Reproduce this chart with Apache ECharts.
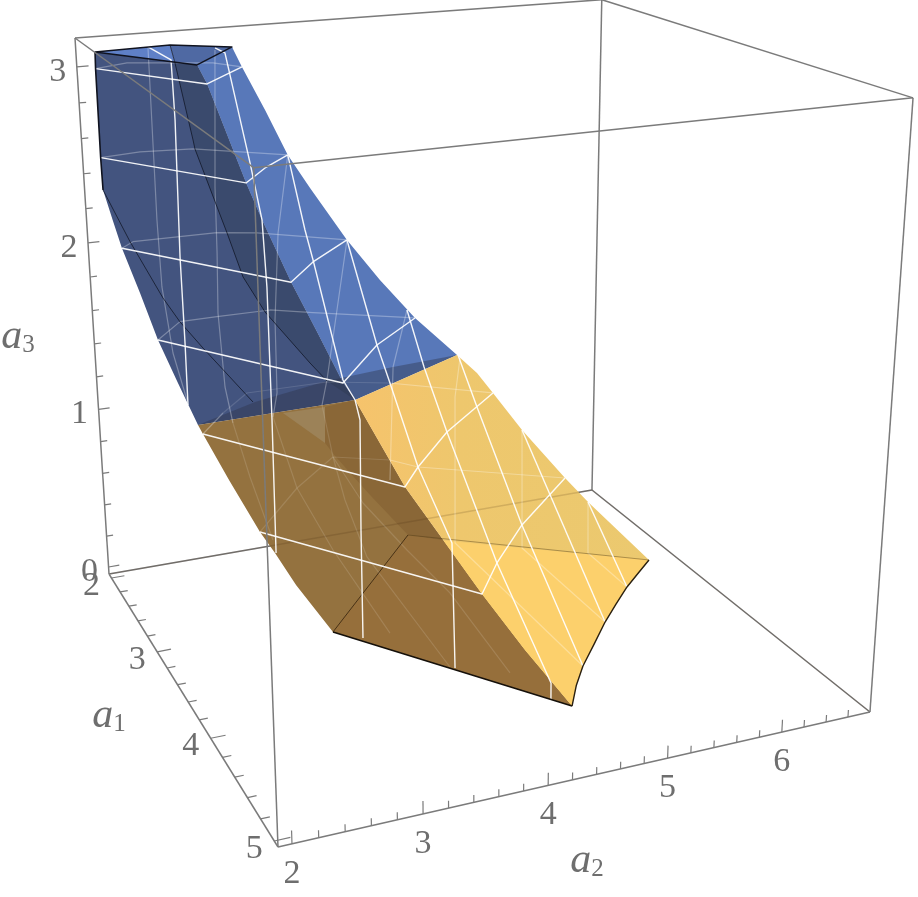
<!DOCTYPE html>
<html><head><meta charset="utf-8">
<style>html,body{margin:0;padding:0;background:#fff}#c{width:918px;height:897px}</style>
<script src="https://cdn.jsdelivr.net/npm/echarts@6/dist/echarts.min.js"></script></head>
<body><div id="c"></div>
<script>
// ---- axis values -------------------------------------------------
const a1Range=[1.941,5.053], a2Range=[1.896,6.803], a3Range=[-0.0458,3.159];
const a1Ticks=[2,2.2,2.4,2.6,2.8,3,3.2,3.4,3.6,3.8,4,4.2,4.4,4.6,4.8,5];
const a2Ticks=[2,2.2,2.4,2.6,2.8,3,3.2,3.4,3.6,3.8,4,4.2,4.4,4.6,4.8,5,5.2,5.4,5.6,5.8,6,6.2,6.4,6.6];
const a3Ticks=[0,0.2,0.4,0.6,0.8,1,1.2,1.4,1.6,1.8,2,2.2,2.4,2.6,2.8,3];
const a1Labels=[2,3,4,5], a2Labels=[2,3,4,5,6], a3Labels=[0,1,2,3];
// ---- surface values [a1,a2,a3] -----------------------------------
const leftUpper=[[2.074,2.010,3.1],[2.030,2.022,3],[2.015,2.025,2.5],[2.031,2.023,2.32],[2.057,2.081,2.15],[2.120,2.124,2],[2.189,2.233,1.75],[2.301,2.324,1.5],[2.356,2.458,1.25],[2.527,2.545,1.05]];
const leftLower=[[2.546,2.577,1],[2.663,2.738,.75],[2.869,2.899,.5],[2.957,2.983,.4],[3.090,3.094,.25],[3.237,3.335,0]];
const ridgeUpper=[[2.644,2.626,3.1],[2.666,2.692,3],[2.865,2.892,2.5],[2.901,2.998,2.3],[3.092,3.130,2],[3.215,3.274,1.75],[3.356,3.408,1.5],[3.394,3.487,1.41]];
const ridgeLower=[[3.679,3.735,1],[3.868,3.944,.75],[4.053,4.153,.5],[4.267,4.378,.25],[4.482,4.633,0]];
const rightUpper=[[2.250,3.109,3.1],[2.319,3.156,3],[2.317,3.346,2.75],[2.379,3.503,2.5],[2.206,3.787,2.25],[2.470,3.969,2],[2.499,4.250,1.75],[2.514,4.566,1.5],[2.546,4.946,1.25]];
const rightLower=[[2.545,5.141,1.12],[2.593,5.265,1],[2.622,5.535,.75],[2.845,5.805,.5],[2.967,5.945,.38],[3.099,6.472,0]];
const baseCurve=[[4.121,5.009,0],[3.712,5.537,0],[3.369,6.027,0]];
const baseCurveMid=[[4.295,4.815,0],[3.920,5.270,0],[3.540,5.780,0],[3.233,6.250,0]];
const backUpper=[[2.052,2.661,3.1],[2.060,2.693,3],[2.025,2.835,2.55],[2.035,2.844,2.5],[2.031,3.021,2.15],[2.063,3.087,2],[2.133,3.184,1.75],[2.067,3.407,1.5],[2.337,3.673,1.25],[2.401,3.793,1.15]];
const backLower=[[2.420,3.758,1],[2.240,3.847,.7],[2.011,4.075,.5],[2.091,4.360,.25],[2.214,4.661,0]];
const crease=[[2.011,2.239,2],[2.177,2.437,1.7],[2.046,2.633,1.5],[2.117,2.799,1.35],[2.305,3.150,1.05]];
const seamBack=[[2.460,4.384,1.2],[2.385,3.130,1.08]];
const ring25=[[2.865,2.892,2.5],[2.604,3.186,2.5]];
const ring20=[[2.793,3.482,2]];
const ring15=[[2.865,3.996,1.5]];
const ring10=[[3.457,3.989,1],[3.054,4.512,1]];
const ring05=[[3.744,4.500,.5],[3.351,5.010,.5]];
const arc30=[[1.949,2.323,3],[2.148,2.985,3]];
const arc25=[[1.976,2.383,2.5],[2.030,2.829,2.5]];
const arc20=[[2.018,2.262,2],[2.034,3.009,2],[2.131,3.327,2]];
const arc15=[[2.040,2.635,1.5],[2.038,2.975,1.5],[2.043,3.466,1.5],[2.190,3.792,1.5]];
const arc10=[[2.280,2.883,1],[2.023,3.231,1],[2.034,3.992,1],[2.196,4.503,1]];
const arc05=[[2.367,3.502,.5],[2.004,4.049,.5],[2.184,4.509,.5],[2.351,4.683,.5]];
const curve1=[[2.057,2.468,3.1],[2.458,2.492,3.1],[2.476,2.494,2.78],[2.412,2.507,2],[2.410,2.515,1.5],[2.457,2.495,1.15]];
const curve2=[[2.238,2.967,3.1],[2.395,2.978,3.1],[2.846,2.941,2.6],[2.901,2.998,2.3],[2.968,2.987,1.95],[2.983,2.984,1.2],[2.960,2.991,.4]];
const curve3=[[2.843,3.393,2.2],[2.914,3.418,2.05],[3.314,3.432,1.5],[3.410,3.517,1.3],[3.434,3.493,.68],[3.404,3.509,.02]];
const curve4=[[2.952,4.057,1.3],[3.914,3.987,.75],[3.912,4.011,.02]];
const curve5=[[2.501,4.499,1.55],[2.659,4.556,1.25],[4.337,4.557,.07],[4.400,4.510,.01]];
const curve6=[[2.548,4.954,1.25],[2.884,4.909,1.05]];
const hidden1=[[3.023,2.078,2.4],[3.206,2.016,2.1],[2.821,2.236,1.6],[2.507,2.467,1.2]];
const hidden2=[[2.292,2.941,3.1],[2.695,2.709,2.45],[2.582,2.754,2.05],[2.121,2.948,1.55],[2.393,2.860,1.2],[2.452,2.891,1],[2.668,2.924,.75],[2.894,3.000,.45]];
const hidden3=[[2.180,3.495,2],[2.228,3.417,1.5],[2.600,3.227,1.2],[2.575,3.196,1.05],[2.808,3.274,.7],[2.945,3.513,.35],[3.425,3.740,.03]];
const hidden4=[[2.769,3.592,1.3],[2.630,3.617,1.1],[2.576,3.736,.75],[2.747,3.743,.55],[3.005,3.789,.3],[3.874,3.991,.01]];
const hidden5=[[2.720,3.926,.5],[3.007,4.160,.3],[3.418,4.295,.2],[4.074,4.387,.02]];
const hidden6=[[2.589,4.307,1.25],[3.016,4.006,.75]];
const hidden7=[[2.600,4.939,1.25],[2.688,4.831,1.05],[3.226,4.470,.4]];
const hidden8=[[3.140,5.167,.25]];
const hidden9=[[3.062,5.879,.1]];
const patchCorner=[[2.464,3.343,1.02]];

// ---- view: perspective of the 3D box onto a hidden 2D value plane ----
function project(p){
  const u=(p[0]-a1Range[0])/(a1Range[1]-a1Range[0]),
        v=(p[1]-a2Range[0])/(a2Range[1]-a2Range[0]),
        w=(p[2]-a3Range[0])/(a3Range[1]-a3Range[0]);
  const d=1-.22714*u+.0916*v-.085*w;
  return [(109+105.85*u+537.2*v-40.375*w)/d,(574+80.6*u-39.1*v-539.23*w)/d];
}
const rev=a=>a.slice().reverse();
const shapes=[];
const poly=(pts,fill)=>shapes.push({pts,fill});
const line=(pts,stroke,lineWidth,closed)=>shapes.push({pts,stroke,lineWidth,closed});

const L=a1Range[0],F=a1Range[1],N=a2Range[0],R=a2Range[1],B=a3Range[0],T=a3Range[1],TB=T-.024;
const boxGray='#7b7b7b';
const curveOutline=[ridgeLower[4],baseCurveMid[0],baseCurve[0],baseCurveMid[1],baseCurve[1],baseCurveMid[2],baseCurve[2],baseCurveMid[3],rightLower[5]];
// box edges behind the solid
const backEdges=[[[L,N,B],[L,R,B]],[[L,R,B],[F,R,B]],[[L,R,B],[L,R,TB]],[[L,N,T],[L,R,TB]],[[L,R,TB],[F,R,T]]];
backEdges.forEach(e=>line(e,boxGray,1.5));
// upper (blue) body
poly(leftUpper.concat(rev(ridgeUpper)),'#43547f');
poly(ridgeUpper.concat(rev(rightUpper)),'#5878b9');
poly([leftUpper[0],backUpper[0],backUpper[1]],'#5f80c7');
poly([backUpper[0],rightUpper[0],ridgeUpper[0],backUpper[1]],'#4f69a3');
poly([leftUpper[0],backUpper[1],ridgeUpper[0]],'#3f5080');
poly(backUpper.slice(1).concat(rev(ridgeUpper)),'#3a4a6d');
poly([leftUpper[9],ridgeUpper[7],rightUpper[8],seamBack[0],backUpper[9],seamBack[1]],'rgba(45,50,70,.4)');
// lower (yellow) body
poly([leftUpper[9]].concat(leftLower,rev(ridgeLower),[ridgeUpper[7]]),'#94723f');
poly(backLower.concat([ridgeLower[1],ridgeLower[0],ridgeUpper[7]]),'#8a6737');
poly([backLower[4],ridgeLower[1],ridgeLower[2],ridgeLower[3],ridgeLower[4],leftLower[5]],'#966f3b');
poly([patchCorner[0],backLower[0],backLower[1]],'#9c8258');
shapes.push({pts:[ridgeUpper[7]].concat(ridgeLower,curveOutline.slice(1),rev(rightLower).slice(1),[rightUpper[8]]),
  fill:{type:'linear',x:0,y:0,x2:1,y2:0,colorStops:[{offset:0,color:'#f6c36c'},{offset:.35,color:'#eec76d'},{offset:1,color:'#ebc96f'}]}});
poly(ridgeLower.slice(1).concat(curveOutline.slice(1)),'#fcd06c');
// box edges seen through the solid
backEdges.slice(0,2).forEach(e=>line(e,'rgba(60,40,15,.16)',1.4));

// hidden arcs and hidden long lines, seen through: brighter over blue and yellow, dimmer over brown
const faint='rgba(255,255,255,.3)', dim='rgba(255,255,255,.13)';
const hiddenLine=(p,a,b)=>{
  if(a>0) line(p.slice(0,a+1),faint,1.2);
  line(p.slice(a,b+1),dim,1.2);
  if(b<p.length-1) line(p.slice(b),faint,1.2);
};
[
 [leftUpper[1]].concat(arc30,[rightUpper[1]]),
 [leftUpper[2]].concat(arc25,[rightUpper[3]]),
 [leftUpper[5]].concat(arc20,[rightUpper[5]]),
 [leftUpper[7]].concat(arc15,[rightUpper[7]]),
 [curve1[0]].concat(hidden1),
 [rightUpper[3]].concat(hidden6.slice(0,0)),
 [curve5[0]].concat(hidden6),
 hidden7.concat([baseCurve[0]]),
 [rightLower[2]].concat(hidden8,[baseCurve[1]]),
 [rightLower[4]].concat(hidden9,[baseCurve[2]])
].filter(p=>p.length>1).forEach(p=>line(p,faint,1.2));
hiddenLine([leftLower[0]].concat(arc10,[rightLower[1]]),1,4);
hiddenLine([leftLower[2]].concat(arc05,[rightLower[3]]),0,3);
hiddenLine(hidden2,5,7);
hiddenLine([rightUpper[3]].concat(hidden3),4,7);
hiddenLine([rightUpper[5]].concat(hidden4),2,6);
hiddenLine([hidden4[2]].concat(hidden5),0,4);

// dark inner edges
line(backUpper,'rgba(15,20,35,.75)',1);
line([leftUpper[3]].concat(crease),'rgba(15,20,35,.75)',1);
line([leftLower[5],backLower[4]],'rgba(45,28,8,.75)',1);
line([backLower[4],rightLower[5]],'rgba(70,50,15,.4)',1);

// bright mesh
const bright='rgba(255,255,255,.93)';
[
 [leftUpper[1],ridgeUpper[1],rightUpper[1]],
 [leftUpper[2]].concat(ring25,[rightUpper[3]]),
 [leftUpper[5],ridgeUpper[4]].concat(ring20,[rightUpper[5]]),
 [leftUpper[7],ridgeUpper[6]].concat(ring15,[rightUpper[7]]),
 [leftLower[0],ridgeLower[0]].concat(ring10,[rightLower[1]]),
 [leftLower[2],ridgeLower[2]].concat(ring05,[rightLower[3]]),
 curve1,curve2,
 [rightUpper[3]].concat(curve3.slice(0,3),[ridgeUpper[7]],curve3.slice(3)),
 [rightUpper[5],ring15[0],curve4[0],ring10[0],curve4[1],curve4[2]],
 [curve5[0],curve5[1],ring10[1],ring05[0],curve5[2],curve5[3]],
 [curve6[0],curve6[1],ring05[1],baseCurve[0]],
 [rightLower[2],baseCurve[1]],
 [rightLower[4],baseCurve[2]]
].forEach(p=>line(p,bright,1.4));

// black outline
line([leftUpper[0],ridgeUpper[0],rightUpper[0],backUpper[0]],'#10131f',1.4,true);
line(leftUpper.slice(0,4),'#10131f',1.6);
line([leftLower[5],ridgeLower[4]],'#15100a',1.6);
line(curveOutline,'#2a2010',1.4);

// box edges in front, and ticks
[[[L,N,T],[F,N,T]],[[F,N,T],[F,R,T]],[[F,N,T],[F,N,B]],[[F,N,B],[F,R,B]],[[F,N,B],[L,N,B]],[[L,N,B],[L,N,T]],[[F,R,T],[F,R,B]]]
 .forEach(e=>line(e,boxGray,1.5));
a1Ticks.forEach(t=>line([[t,N,B],[t,N+(a1Labels.includes(t)?.12:.07),B]],boxGray,1.2));
a2Ticks.forEach(t=>line([[F,t,B],[F,t,B+(a2Labels.includes(t)?.07:.04)]],boxGray,1.2));
a3Ticks.forEach(t=>line([[L,N,t],[L,N+(a3Labels.includes(t)?.1:.06),t]],boxGray,1.2));

// ---- texts -------------------------------------------------------
const gray='#6e6e6e', serif='Liberation Serif';
const labels=[];
a1Labels.forEach(t=>labels.push({at:project([t,N,B]),dx:-20,dy:8,text:String(t)}));
a2Labels.forEach(t=>labels.push({at:project([F,t,B]),dx:0,dy:30,text:String(t)}));
a3Labels.forEach(t=>labels.push({at:project([L,N,t]),dx:-19,dy:5,text:String(t)}));
const titles=[{at:[109,716],sub:'1'},{at:[587,861],sub:'2'},{at:[18,337],sub:'3'}];

const chart=echarts.init(document.getElementById('c'),null,{renderer:'canvas'});
chart.setOption({
  animation:false,
  grid:{left:0,right:0,top:0,bottom:0},
  xAxis:{type:'value',min:0,max:918,show:false},
  yAxis:{type:'value',min:0,max:897,inverse:true,show:false},
  series:[
   {type:'custom',coordinateSystem:'cartesian2d',clip:false,silent:true,data:shapes.map((s,i)=>[i]),
    renderItem(params,api){
      const s=shapes[params.dataIndex];
      const points=s.pts.map(p=>api.coord(project(p)));
      if(s.fill) return {type:'polygon',shape:{points},style:{fill:s.fill,stroke:null}};
      if(s.closed) return {type:'polygon',shape:{points},style:{fill:null,stroke:s.stroke,lineWidth:s.lineWidth,lineJoin:'round'}};
      return {type:'polyline',shape:{points},style:{fill:null,stroke:s.stroke,lineWidth:s.lineWidth,lineJoin:'round'}};
    }},
   {type:'custom',coordinateSystem:'cartesian2d',clip:false,silent:true,data:labels.map((s,i)=>[i]),
    renderItem(params,api){
      const s=labels[params.dataIndex],c=api.coord(s.at);
      return {type:'text',x:c[0]+s.dx,y:c[1]+s.dy,style:{text:s.text,fill:gray,fontFamily:serif,fontSize:34,textAlign:'center',textVerticalAlign:'middle'}};
    }},
   {type:'custom',coordinateSystem:'cartesian2d',clip:false,silent:true,data:titles.map((s,i)=>[i]),
    renderItem(params,api){
      const s=titles[params.dataIndex],c=api.coord(s.at);
      return {type:'text',x:c[0],y:c[1],style:{text:'{a|a}{s|'+s.sub+'}',fill:gray,textAlign:'center',textVerticalAlign:'middle',
        rich:{a:{fontFamily:serif,fontStyle:'italic',fontSize:42,fill:gray},
              s:{fontFamily:serif,fontSize:25,fill:gray,verticalAlign:'bottom',padding:[14,0,0,0]}}}};
    }}
  ]
});
</script></body></html>
